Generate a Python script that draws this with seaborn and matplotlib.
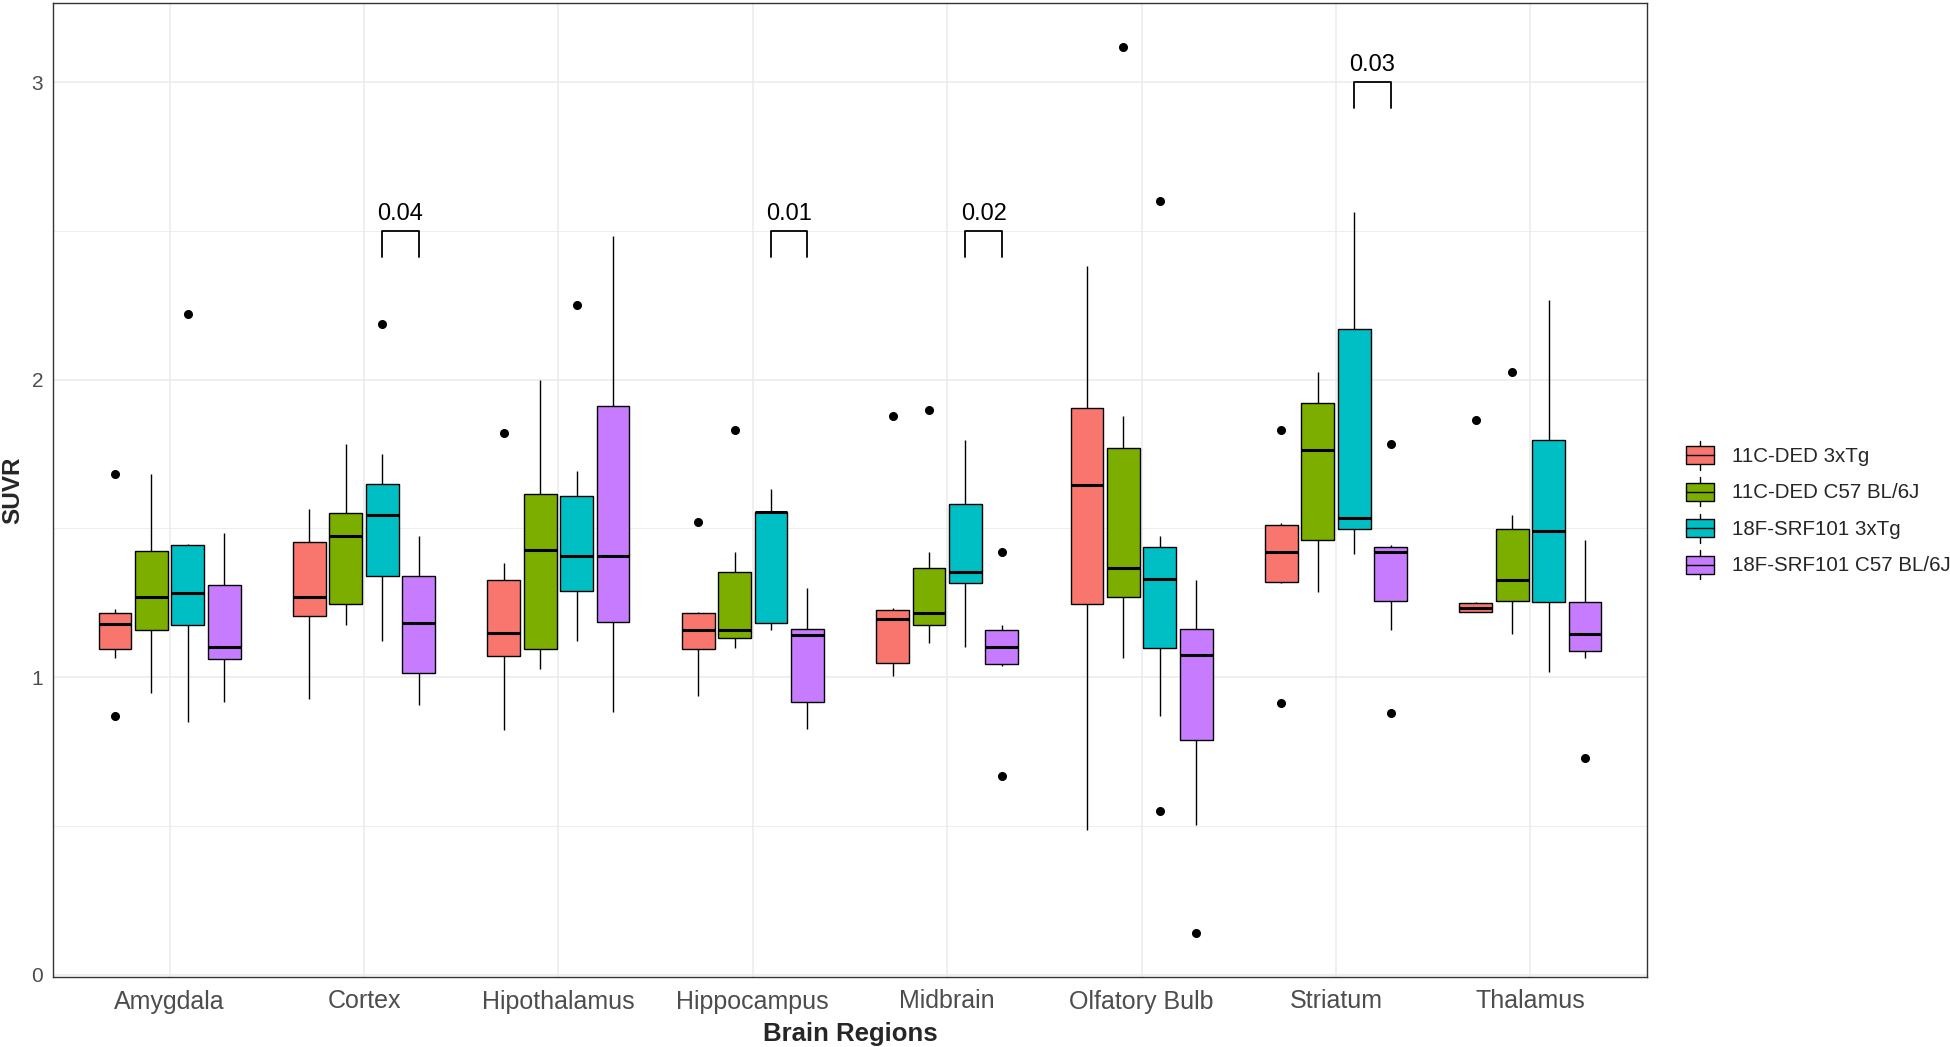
"""
SUVR per brain region: 11C-DED vs 18F-SRF101 in 3xTg and C57 BL/6J mice,
ggplot-like boxplot redrawn with seaborn.
"""
import numpy as np
import pandas as pd
import matplotlib
matplotlib.use("Agg")
import matplotlib.pyplot as plt
from matplotlib.ticker import MultipleLocator
from matplotlib.patches import Patch, Rectangle
from matplotlib.lines import Line2D
from matplotlib.legend_handler import HandlerBase
import seaborn as sns

regions = ["Amygdala", "Cortex", "Hipothalamus", "Hippocampus",
           "Midbrain", "Olfatory Bulb", "Striatum", "Thalamus"]
groups = ["11C-DED 3xTg", "11C-DED C57 BL/6J",
          "18F-SRF101 3xTg", "18F-SRF101 C57 BL/6J"]

# five-number summaries, one row per region, one column per group
whisker_low = [[1.065, 0.948, 0.848, 0.917],
               [0.926, 1.177, 1.123, 0.906],
               [0.823, 1.027, 1.123, 0.883],
               [0.937, 1.099, 1.157, 0.825],
               [1.004, 1.114, 1.103, 1.036],
               [0.487, 1.065, 0.868, 0.502],
               [1.316, 1.285, 1.413, 1.157],
               [1.220, 1.146, 1.018, 1.065]]
q1 = [[1.094, 1.159, 1.177, 1.061],
      [1.204, 1.247, 1.339, 1.013],
      [1.072, 1.094, 1.289, 1.184],
      [1.094, 1.130, 1.182, 0.917],
      [1.049, 1.177, 1.316, 1.043],
      [1.247, 1.269, 1.099, 0.789],
      [1.321, 1.462, 1.498, 1.256],
      [1.220, 1.256, 1.253, 1.087]]
median = [[1.179, 1.271, 1.283, 1.101],
          [1.271, 1.475, 1.545, 1.182],
          [1.150, 1.426, 1.406, 1.406],
          [1.159, 1.159, 1.554, 1.143],
          [1.195, 1.217, 1.352, 1.101],
          [1.646, 1.368, 1.330, 1.074],
          [1.422, 1.765, 1.536, 1.422],
          [1.233, 1.325, 1.491, 1.146]]
q3 = [[1.215, 1.424, 1.444, 1.309],
      [1.455, 1.552, 1.648, 1.339],
      [1.327, 1.617, 1.610, 1.910],
      [1.215, 1.352, 1.556, 1.161],
      [1.226, 1.368, 1.583, 1.157],
      [1.904, 1.771, 1.439, 1.161],
      [1.513, 1.922, 2.170, 1.439],
      [1.249, 1.498, 1.798, 1.251]]
whisker_high = [[1.229, 1.682, 1.448, 1.484],
                [1.565, 1.785, 1.751, 1.473],
                [1.383, 2.000, 1.693, 2.482],
                [1.220, 1.419, 1.632, 1.300],
                [1.231, 1.419, 1.798, 1.175],
                [2.381, 1.877, 1.473, 1.327],
                [1.518, 2.027, 2.563, 1.444],
                [1.253, 1.545, 2.267, 1.462]]
# (region, group index, value)
outliers = [("Amygdala", 0, 1.682), ("Amygdala", 0, 0.868), ("Amygdala", 2, 2.220),
            ("Cortex", 2, 2.188),
            ("Hipothalamus", 0, 1.821), ("Hipothalamus", 2, 2.251),
            ("Hippocampus", 0, 1.520), ("Hippocampus", 1, 1.832),
            ("Midbrain", 0, 1.877), ("Midbrain", 1, 1.899),
            ("Midbrain", 3, 1.419), ("Midbrain", 3, 0.668),
            ("Olfatory Bulb", 1, 3.117), ("Olfatory Bulb", 2, 2.599),
            ("Olfatory Bulb", 2, 0.552), ("Olfatory Bulb", 3, 0.141),
            ("Striatum", 0, 1.832), ("Striatum", 0, 0.913),
            ("Striatum", 3, 1.783), ("Striatum", 3, 0.879),
            ("Thalamus", 0, 1.863), ("Thalamus", 1, 2.027), ("Thalamus", 3, 0.729)]

# p-values between the two 18F-SRF101 groups
sig_regions = ["Cortex", "Hippocampus", "Midbrain", "Striatum"]
sig_labels = ["0.04", "0.01", "0.02", "0.03"]
sig_heights = [2.5, 2.5, 2.5, 3.0]

palette = ["#F8766D", "#7CAE00", "#00BFC4", "#C77CFF"]

# nine values per box so that quartiles land exactly on the read-off summary
rows = []
for i, reg in enumerate(regions):
    for j, grp in enumerate(groups):
        vals = [whisker_low[i][j], whisker_low[i][j], q1[i][j],
                median[i][j], median[i][j], median[i][j],
                q3[i][j], whisker_high[i][j], whisker_high[i][j]]
        for r, g, v in outliers:
            if r == reg and g == j:
                if v < q1[i][j]:
                    vals[0] = v
                else:
                    vals[8] = v
        for v in vals:
            rows.append({"Region": reg, "Group": grp, "SUVR": v})
df = pd.DataFrame(rows)

sns.set_theme(style="white")
plt.rcParams['font.family'] = ['Liberation Sans', 'DejaVu Sans']
plt.rcParams['axes.edgecolor'] = '#333333'
plt.rcParams['axes.linewidth'] = 1.0

fig = plt.figure(figsize=(19.5, 10.47), dpi=100)
ax = fig.add_axes([53 / 1950, 1 - 977 / 1047, 1594 / 1950, 974 / 1047])

box_width = 0.75
sns.boxplot(data=df, x="Region", y="SUVR", hue="Group", order=regions,
            hue_order=groups, palette=palette, saturation=1, width=box_width,
            gap=0.1, linecolor="black", linewidth=1.0, showcaps=False,
            whis=1.5, legend=False, ax=ax,
            medianprops=dict(color="black", linewidth=2.2),
            flierprops=dict(marker="o", markerfacecolor="black",
                            markeredgecolor="black", markersize=5.5))

ax.set_xlim(-0.6, len(regions) - 0.4)
ax.set_ylim(-0.0075, 3.2655)
ax.yaxis.set_major_locator(MultipleLocator(1))
ax.yaxis.set_minor_locator(MultipleLocator(0.5))
ax.set_axisbelow(True)
ax.grid(which="major", color="#EBEBEB", linewidth=1.1)
ax.grid(which="minor", axis="y", color="#EBEBEB", linewidth=0.6)
ax.tick_params(which="minor", length=0)
ax.tick_params(axis="both", which="major", length=4, width=1.0,
               color="#333333", labelcolor="#4D4D4D")
ax.tick_params(axis="x", labelsize=18, pad=5)
ax.tick_params(axis="y", labelsize=15, pad=3)
ax.set_xlabel("")
ax.set_ylabel("")
for side in ["top", "right", "bottom", "left"]:
    ax.spines[side].set_visible(True)
    ax.spines[side].set_color("#333333")

# significance brackets between the two 18F-SRF101 boxes
slot = box_width / len(groups)
off_a = (2 - (len(groups) - 1) / 2) * slot
off_b = (3 - (len(groups) - 1) / 2) * slot
leg = 0.088
for reg, lab, h in zip(sig_regions, sig_labels, sig_heights):
    xc = regions.index(reg)
    ax.plot([xc + off_a, xc + off_a, xc + off_b, xc + off_b],
            [h - leg, h, h, h - leg], color="black", linewidth=1.3)
    ax.text(xc + (off_a + off_b) / 2, h + 0.02, lab, ha="center", va="bottom",
            fontsize=17, color="black")

fig.text(850 / 1950, 1 - 1034 / 1047, "Brain Regions", ha="center", va="center",
         fontsize=18.5, fontweight="bold")
fig.text(13 / 1950, 1 - 490 / 1047, "SUVR", ha="center", va="center",
         rotation=90, fontsize=17.5, fontweight="bold")


class BoxKey(HandlerBase):
    def create_artists(self, legend, orig_handle, xdescent, ydescent,
                       width, height, fontsize, trans):
        x0, y0 = -xdescent, -ydescent
        bh = height * 0.62
        yb = y0 + (height - bh) / 2
        xm = x0 + width / 2
        top = Line2D([xm, xm], [yb + bh, y0 + height], color="black", lw=1.0,
                     transform=trans)
        bot = Line2D([xm, xm], [y0, yb], color="black", lw=1.0, transform=trans)
        box = Rectangle((x0, yb), width, bh, facecolor=orig_handle.get_facecolor(),
                        edgecolor="black", lw=1.0, transform=trans)
        med = Line2D([x0, x0 + width], [y0 + height / 2] * 2, color="black",
                     lw=1.0, transform=trans)
        return [top, bot, box, med]


handles = [Patch(facecolor=c) for c in palette]
fig.legend(handles, groups, handler_map={Patch: BoxKey()},
           loc="center left", bbox_to_anchor=(1686 / 1950, 1 - 510 / 1047),
           frameon=False, fontsize=14.8, handlelength=1.36, handleheight=1.79,
           labelspacing=0.36, handletextpad=0.87, borderpad=0, borderaxespad=0)

fig.savefig("out.png", dpi=100)
